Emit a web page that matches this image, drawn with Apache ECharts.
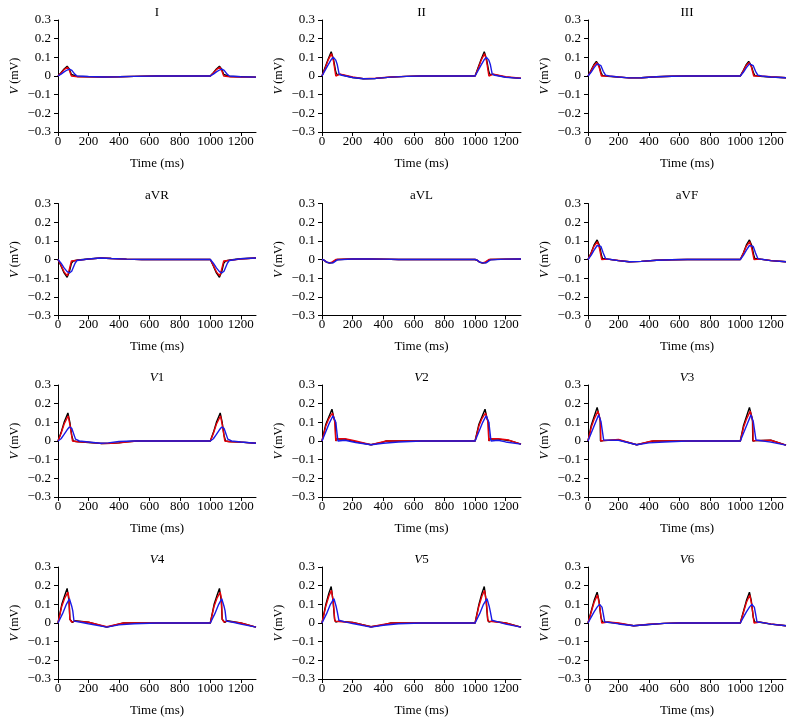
<!DOCTYPE html>
<html>
<head>
<meta charset="utf-8">
<script src="https://cdn.jsdelivr.net/npm/echarts@6/dist/echarts.min.js"></script>
<style>
html,body{margin:0;padding:0;background:#fff;}
#chart{width:795px;height:725px;}
</style>
</head>
<body>
<div id="chart"></div>
<script>
// ---- tick values and labels ----
const tTicks = [0, 200, 400, 600, 800, 1000, 1200];
const tTickLabels = ['0', '200', '400', '600', '800', '1000', '1200'];
const vTicks = [-0.3, -0.2, -0.1, 0, 0.1, 0.2, 0.3];
const vTickLabels = ['\u22120.3', '\u22120.2', '\u22120.1', '0', '0.1', '0.2', '0.3'];
const leads = ['I', 'II', 'III', 'aVR', 'aVL', 'aVF', 'V1', 'V2', 'V3', 'V4', 'V5', 'V6'];

// ---- data: [time (ms), V (mV)] ----
const I_black = [[0,0],[20,0.018],[40,0.038],[60,0.052],[75,0.036],[88,0.008],[100,0],[130,-0.003],[200,-0.004],[300,-0.005],[400,-0.004],[500,-0.002],[650,0],[1000,0],[1020,0.018],[1040,0.038],[1060,0.052],[1075,0.036],[1088,0.008],[1100,0],[1130,-0.003],[1200,-0.004],[1300,-0.006]];
const I_red = [[0,0],[20,0.016],[40,0.034],[62,0.047],[75,0.03],[88,0],[95,-0.003],[130,-0.004],[200,-0.004],[300,-0.005],[400,-0.004],[500,-0.002],[650,0],[1000,0],[1020,0.016],[1040,0.034],[1062,0.047],[1075,0.03],[1088,0],[1095,-0.003],[1130,-0.004],[1200,-0.005],[1300,-0.006]];
const I_blue = [[0,0],[20,0.01],[40,0.022],[60,0.032],[75,0.037],[85,0.036],[91,0.03],[97,0.034],[110,0.01],[125,0],[200,-0.003],[300,-0.005],[400,-0.004],[500,-0.002],[650,0],[1000,0],[1020,0.01],[1040,0.022],[1060,0.032],[1075,0.037],[1085,0.036],[1091,0.03],[1097,0.034],[1110,0.01],[1125,0],[1200,-0.004],[1300,-0.006]];

const II_black = [[0,0],[20,0.045],[40,0.09],[60,0.13],[75,0.09],[88,0.03],[95,0.01],[120,0.008],[200,-0.008],[270,-0.015],[350,-0.013],[450,-0.006],[550,-0.002],[650,0],[1000,0],[1020,0.045],[1040,0.09],[1060,0.13],[1075,0.09],[1088,0.03],[1095,0.01],[1120,0.008],[1200,-0.006],[1300,-0.013]];
const II_red = [[0,0],[20,0.04],[40,0.085],[62,0.12],[75,0.08],[90,0],[100,0.01],[120,0.01],[200,-0.005],[270,-0.014],[350,-0.012],[450,-0.005],[550,-0.002],[650,0],[1000,0],[1020,0.04],[1040,0.085],[1062,0.12],[1075,0.08],[1090,0],[1100,0.01],[1120,0.01],[1200,-0.004],[1300,-0.012]];
const II_blue = [[0,0],[20,0.03],[40,0.06],[60,0.088],[75,0.1],[90,0.085],[100,0.06],[112,0.01],[130,0.004],[200,-0.008],[270,-0.015],[350,-0.013],[450,-0.006],[550,-0.002],[650,0],[1000,0],[1020,0.03],[1040,0.06],[1060,0.088],[1075,0.1],[1090,0.085],[1100,0.06],[1112,0.01],[1130,0.004],[1200,-0.007],[1300,-0.013]];

const III_black = [[0,0],[20,0.03],[40,0.062],[55,0.078],[70,0.06],[85,0.02],[95,0.003],[130,-0.002],[200,-0.006],[270,-0.01],[350,-0.009],[450,-0.004],[550,-0.001],[650,0],[1000,0],[1020,0.03],[1040,0.062],[1055,0.078],[1070,0.06],[1085,0.02],[1095,0.003],[1130,-0.002],[1200,-0.005],[1300,-0.009]];
const III_red = [[0,0],[20,0.028],[40,0.058],[58,0.072],[72,0.05],[88,0],[100,0.002],[130,0],[200,-0.005],[270,-0.01],[350,-0.009],[450,-0.004],[550,-0.001],[650,0],[1000,0],[1020,0.028],[1040,0.058],[1058,0.072],[1072,0.05],[1088,0],[1100,0.002],[1130,0],[1200,-0.004],[1300,-0.009]];
const III_blue = [[0,0],[20,0.02],[40,0.045],[60,0.065],[72,0.068],[85,0.055],[100,0.025],[115,0.005],[140,0],[200,-0.005],[270,-0.01],[350,-0.009],[450,-0.004],[550,-0.001],[650,0],[1000,0],[1020,0.02],[1040,0.045],[1060,0.065],[1072,0.068],[1085,0.055],[1100,0.025],[1115,0.005],[1140,0],[1200,-0.005],[1300,-0.009]];

const aVR_black = [[0,0],[20,-0.035],[40,-0.072],[60,-0.095],[75,-0.065],[88,-0.02],[100,-0.008],[130,-0.003],[200,0.003],[280,0.008],[350,0.005],[450,0.002],[550,0],[1000,0],[1020,-0.035],[1040,-0.072],[1060,-0.095],[1075,-0.065],[1088,-0.02],[1100,-0.008],[1130,-0.003],[1200,0.004],[1300,0.008]];
const aVR_red = [[0,0],[20,-0.032],[40,-0.066],[62,-0.088],[75,-0.05],[88,-0.008],[95,-0.004],[130,-0.004],[200,0.002],[280,0.008],[350,0.005],[450,0.002],[550,0],[1000,0],[1020,-0.032],[1040,-0.066],[1062,-0.088],[1075,-0.05],[1088,-0.008],[1095,-0.004],[1130,-0.004],[1200,0.003],[1300,0.008]];
const aVR_blue = [[0,0],[20,-0.02],[40,-0.045],[60,-0.065],[75,-0.072],[90,-0.063],[100,-0.055],[112,-0.02],[125,-0.005],[200,0.003],[280,0.008],[350,0.005],[450,0.002],[550,0],[1000,0],[1020,-0.02],[1040,-0.045],[1060,-0.065],[1075,-0.072],[1090,-0.063],[1100,-0.055],[1112,-0.02],[1125,-0.005],[1200,0.004],[1300,0.008]];

const aVL_black = [[0,0],[15,-0.005],[30,-0.015],[50,-0.019],[70,-0.016],[85,-0.006],[100,0],[200,0.003],[300,0.003],[400,0.002],[500,0],[1000,0],[1015,-0.005],[1030,-0.015],[1050,-0.019],[1070,-0.016],[1085,-0.006],[1100,0],[1200,0.002],[1300,0.003]];
const aVL_red = [[0,0],[15,-0.005],[30,-0.014],[50,-0.018],[68,-0.013],[80,-0.003],[90,0],[200,0.003],[300,0.003],[400,0.002],[500,0],[1000,0],[1015,-0.005],[1030,-0.014],[1050,-0.018],[1068,-0.013],[1080,-0.003],[1090,0],[1200,0.002],[1300,0.003]];
const aVL_blue = [[0,0],[15,-0.004],[30,-0.014],[50,-0.018],[72,-0.018],[86,-0.01],[100,-0.002],[110,0],[200,0.003],[300,0.003],[400,0.002],[500,0],[1000,0],[1015,-0.004],[1030,-0.014],[1050,-0.018],[1072,-0.018],[1086,-0.01],[1100,-0.002],[1110,0],[1200,0.002],[1300,0.003]];

const aVF_black = [[0,0],[20,0.035],[40,0.078],[60,0.105],[75,0.075],[88,0.025],[95,0.005],[130,0.002],[200,-0.006],[270,-0.012],[350,-0.01],[450,-0.004],[550,-0.001],[650,0],[1000,0],[1020,0.035],[1040,0.078],[1060,0.105],[1075,0.075],[1088,0.025],[1095,0.005],[1130,0.002],[1200,-0.006],[1300,-0.012]];
const aVF_red = [[0,0],[20,0.033],[40,0.072],[62,0.095],[75,0.06],[90,0],[100,0.003],[130,0.002],[200,-0.005],[270,-0.012],[350,-0.01],[450,-0.004],[550,-0.001],[650,0],[1000,0],[1020,0.033],[1040,0.072],[1062,0.095],[1075,0.06],[1090,0],[1100,0.003],[1130,0.002],[1200,-0.005],[1300,-0.012]];
const aVF_blue = [[0,0],[20,0.022],[40,0.05],[60,0.075],[72,0.083],[85,0.07],[100,0.035],[115,0.005],[140,0.001],[200,-0.006],[270,-0.012],[350,-0.01],[450,-0.004],[550,-0.001],[650,0],[1000,0],[1020,0.022],[1040,0.05],[1060,0.075],[1072,0.083],[1085,0.07],[1100,0.035],[1115,0.005],[1140,0.001],[1200,-0.006],[1300,-0.012]];

const V1_black = [[0,0],[20,0.045],[40,0.1],[65,0.15],[78,0.1],[90,0.03],[100,0],[120,-0.003],[200,-0.008],[280,-0.013],[350,-0.012],[400,-0.01],[450,-0.004],[520,0],[1000,0],[1020,0.045],[1040,0.1],[1065,0.15],[1078,0.1],[1090,0.03],[1100,0],[1120,-0.003],[1200,-0.006],[1300,-0.012]];
const V1_red = [[0,0],[20,0.04],[40,0.09],[67,0.135],[80,0.08],[95,0],[105,-0.005],[130,-0.004],[200,-0.007],[280,-0.013],[350,-0.012],[400,-0.01],[450,-0.005],[520,0],[1000,0],[1020,0.04],[1040,0.09],[1067,0.135],[1080,0.08],[1095,0],[1105,-0.005],[1130,-0.004],[1200,-0.006],[1300,-0.012]];
const V1_blue = [[0,0],[10,0.002],[20,0.012],[40,0.035],[60,0.06],[75,0.075],[85,0.076],[90,0.068],[95,0.075],[100,0.06],[115,0.01],[140,0],[200,-0.005],[280,-0.012],[330,-0.01],[335,-0.004],[400,-0.003],[500,0],[1000,0],[1010,0.002],[1020,0.012],[1040,0.035],[1060,0.06],[1075,0.075],[1085,0.076],[1090,0.068],[1095,0.075],[1100,0.06],[1115,0.01],[1140,0],[1200,-0.005],[1300,-0.012]];

const V2_black = [[0,0],[8,0],[25,0.09],[45,0.13],[65,0.17],[80,0.115],[88,0.1],[90,0],[96,0.012],[150,0.01],[220,-0.005],[320,-0.02],[400,-0.006],[420,0],[600,0],[1000,0],[1008,0],[1025,0.09],[1045,0.13],[1065,0.17],[1080,0.115],[1088,0.1],[1090,0],[1096,0.012],[1150,0.01],[1220,0.003],[1300,-0.017]];
const V2_red = [[0,0],[8,0],[25,0.08],[45,0.12],[68,0.15],[82,0.11],[88,0.1],[90,0],[96,0.012],[150,0.012],[220,0],[320,-0.02],[420,0],[600,0],[1000,0],[1008,0],[1025,0.08],[1045,0.12],[1068,0.15],[1082,0.11],[1088,0.1],[1090,0],[1096,0.012],[1150,0.012],[1220,0.005],[1300,-0.017]];
const V2_blue = [[0,0],[10,0],[30,0.06],[50,0.1],[72,0.135],[90,0.1],[96,0.09],[104,0],[110,0.01],[150,0.004],[220,-0.008],[320,-0.02],[400,-0.012],[500,-0.005],[650,0],[1000,0],[1010,0],[1030,0.06],[1050,0.1],[1072,0.135],[1090,0.1],[1096,0.09],[1104,0],[1110,0.01],[1150,0.004],[1200,-0.005],[1300,-0.017]];

const V3_black = [[0,0],[5,0],[20,0.08],[40,0.13],[60,0.18],[72,0.14],[80,0.11],[82,0],[100,0.002],[108,0.01],[200,0.006],[320,-0.02],[400,-0.005],[430,0],[600,0],[1000,0],[1005,0],[1020,0.08],[1040,0.13],[1060,0.18],[1072,0.14],[1080,0.11],[1082,0],[1100,0.002],[1108,0.01],[1200,0.004],[1300,-0.022]];
const V3_red = [[0,0],[5,0],[22,0.075],[42,0.12],[65,0.16],[75,0.13],[82,0.1],[84,0],[100,0.002],[106,0.012],[200,0.008],[320,-0.02],[420,0],[600,0],[1000,0],[1005,0],[1022,0.075],[1042,0.12],[1065,0.16],[1075,0.13],[1082,0.1],[1084,0],[1100,0.002],[1106,0.012],[1200,0.004],[1300,-0.022]];
const V3_blue = [[0,0],[8,0],[30,0.06],[50,0.1],[70,0.14],[85,0.105],[92,0.095],[103,0.005],[108,0.01],[200,0.004],[320,-0.02],[400,-0.01],[500,-0.005],[650,0],[1000,0],[1008,0],[1030,0.06],[1050,0.1],[1070,0.14],[1085,0.105],[1092,0.095],[1103,0.005],[1108,0.01],[1200,-0.006],[1300,-0.022]];

const V4_black = [[0,0],[5,0],[25,0.1],[45,0.15],[60,0.185],[72,0.12],[78,0.02],[85,0.01],[95,0.003],[110,0.012],[200,0.004],[320,-0.022],[430,0],[600,0],[1000,0],[1005,0],[1025,0.1],[1045,0.15],[1060,0.185],[1072,0.12],[1078,0.02],[1085,0.01],[1095,0.003],[1110,0.012],[1200,0],[1300,-0.022]];
const V4_red = [[0,0],[5,0],[25,0.09],[45,0.135],[65,0.165],[73,0.13],[78,0.02],[90,0.005],[110,0.01],[200,0.004],[320,-0.02],[430,0],[600,0],[1000,0],[1005,0],[1025,0.09],[1045,0.135],[1065,0.165],[1073,0.13],[1078,0.02],[1090,0.005],[1110,0.01],[1200,0],[1300,-0.022]];
const V4_blue = [[0,0],[8,0],[30,0.05],[55,0.1],[75,0.13],[90,0.09],[97,0.065],[105,0.01],[150,0.004],[200,-0.004],[320,-0.022],[400,-0.01],[500,-0.004],[650,0],[1000,0],[1008,0],[1030,0.05],[1055,0.1],[1075,0.13],[1090,0.09],[1097,0.065],[1105,0.01],[1150,0.004],[1200,-0.006],[1300,-0.022]];

const V5_black = [[0,0],[5,0],[25,0.1],[45,0.16],[60,0.195],[72,0.12],[82,0.02],[90,0.005],[110,0.01],[200,0.003],[320,-0.02],[400,-0.01],[450,0],[600,0],[1000,0],[1005,0],[1025,0.1],[1045,0.16],[1060,0.195],[1072,0.12],[1082,0.02],[1090,0.005],[1110,0.01],[1200,0],[1300,-0.022]];
const V5_red = [[0,0],[5,0],[25,0.09],[45,0.145],[62,0.175],[74,0.11],[84,0.01],[92,0.004],[110,0.008],[200,0.003],[320,-0.02],[400,-0.008],[460,0],[600,0],[1000,0],[1005,0],[1025,0.09],[1045,0.145],[1062,0.175],[1074,0.11],[1084,0.01],[1092,0.004],[1110,0.008],[1200,0],[1300,-0.022]];
const V5_blue = [[0,0],[8,0],[30,0.05],[55,0.1],[78,0.13],[92,0.09],[100,0.06],[110,0.015],[150,0.006],[200,-0.003],[320,-0.022],[400,-0.012],[500,-0.004],[650,0],[1000,0],[1008,0],[1030,0.05],[1055,0.1],[1078,0.13],[1092,0.09],[1100,0.06],[1110,0.015],[1150,0.006],[1200,-0.006],[1300,-0.022]];

const V6_black = [[0,0],[20,0.06],[40,0.12],[60,0.165],[72,0.12],[85,0.03],[95,0.005],[130,0.004],[200,-0.002],[300,-0.015],[400,-0.008],[500,-0.002],[600,0],[1000,0],[1020,0.06],[1040,0.12],[1060,0.165],[1072,0.12],[1085,0.03],[1095,0.005],[1130,0.004],[1200,-0.006],[1300,-0.015]];
const V6_red = [[0,0],[20,0.055],[40,0.11],[62,0.15],[75,0.1],[90,0],[100,0.003],[130,0.005],[200,0],[300,-0.015],[400,-0.007],[500,-0.002],[600,0],[1000,0],[1020,0.055],[1040,0.11],[1062,0.15],[1075,0.1],[1090,0],[1100,0.003],[1130,0.005],[1200,-0.005],[1300,-0.015]];
const V6_blue = [[0,0],[20,0.03],[40,0.06],[60,0.085],[75,0.1],[85,0.09],[92,0.085],[100,0.05],[110,0.005],[150,0.002],[200,-0.005],[300,-0.015],[400,-0.008],[500,-0.002],[600,0],[1000,0],[1020,0.03],[1040,0.06],[1060,0.085],[1075,0.1],[1085,0.09],[1092,0.085],[1100,0.05],[1110,0.005],[1150,0.002],[1200,-0.006],[1300,-0.015]];

const leadData = [
  [I_black, I_red, I_blue], [II_black, II_red, II_blue], [III_black, III_red, III_blue],
  [aVR_black, aVR_red, aVR_blue], [aVL_black, aVL_red, aVL_blue], [aVF_black, aVF_red, aVF_blue],
  [V1_black, V1_red, V1_blue], [V2_black, V2_red, V2_blue], [V3_black, V3_red, V3_blue],
  [V4_black, V4_red, V4_blue], [V5_black, V5_red, V5_blue], [V6_black, V6_red, V6_blue]
];

// ---- layout / style ----
const colLeft = [58, 322, 588];
const colWidth = [198, 199, 198];
const rowTop = [20, 203.5, 385, 567];
const plotH = 112;
const lineColors = ['#000000', '#e8000a', '#1a1ae6'];
const fontMain = '"Liberation Serif", serif';
const italicRich = (ff, fs) => ({ it: { fontStyle: 'italic', fontFamily: ff, fontSize: fs, color: '#000' } });

const lookup = (ticks, labels) => (v) => {
  const k = ticks.findIndex(t => Math.abs(t - v) < 1e-6);
  return k >= 0 ? labels[k] : '';
};

const grids = [], xAxes = [], yAxes = [], series = [], titles = [];
leads.forEach((name, i) => {
  const col = i % 3, row = Math.floor(i / 3);
  grids.push({ left: colLeft[col], top: rowTop[row], width: colWidth[col], height: plotH });
  const titleText = name.charAt(0) === 'V' ? '{it|V}' + name.slice(1) : name;
  titles.push({
    text: titleText,
    left: colLeft[col] + colWidth[col] / 2,
    top: rowTop[row] - 14,
    textAlign: 'center',
    padding: 0,
    textStyle: { fontFamily: fontMain, fontSize: 13, fontWeight: 'normal', color: '#000', rich: italicRich(fontMain, 13) }
  });
  xAxes.push({
    gridIndex: i, type: 'value', min: 0, max: 1300, interval: 200,
    axisLine: { show: true, onZero: false, lineStyle: { color: '#000', width: 1 } },
    axisTick: { show: true, inside: false, length: 4, customValues: tTicks, lineStyle: { color: '#000', width: 1 } },
    axisLabel: { show: true, customValues: tTicks, hideOverlap: false, margin: 3, color: '#000', fontFamily: fontMain, fontSize: 13,
      formatter: lookup(tTicks, tTickLabels) },
    splitLine: { show: false },
    name: 'Time (ms)', nameLocation: 'middle', nameGap: 25,
    nameTextStyle: { fontFamily: fontMain, fontSize: 13, color: '#000' }
  });
  yAxes.push({
    gridIndex: i, type: 'value', min: -0.3, max: 0.3, interval: 0.1,
    axisLine: { show: true, onZero: false, lineStyle: { color: '#000', width: 1 } },
    axisTick: { show: true, inside: false, length: 4, customValues: vTicks, lineStyle: { color: '#000', width: 1 } },
    axisLabel: { show: true, customValues: vTicks, hideOverlap: false, margin: 7, color: '#000', fontFamily: fontMain, fontSize: 13,
      formatter: lookup(vTicks, vTickLabels) },
    splitLine: { show: false },
    name: '{it|V} (mV)', nameLocation: 'middle', nameGap: 37,
    nameTextStyle: { fontFamily: fontMain, fontSize: 12, color: '#000', rich: italicRich(fontMain, 12) }
  });
  leadData[i].forEach((d, k) => {
    series.push({
      type: 'line', xAxisIndex: i, yAxisIndex: i, data: d,
      showSymbol: false, symbol: 'none', smooth: false,
      lineStyle: { color: lineColors[k], width: 1.4 },
      z: 2 + k, silent: true
    });
  });
});

const chart = echarts.init(document.getElementById('chart'), null, { renderer: 'canvas' });
chart.setOption({
  backgroundColor: '#ffffff',
  animation: false,
  title: titles,
  grid: grids,
  xAxis: xAxes,
  yAxis: yAxes,
  series: series
});
</script>
</body>
</html>
